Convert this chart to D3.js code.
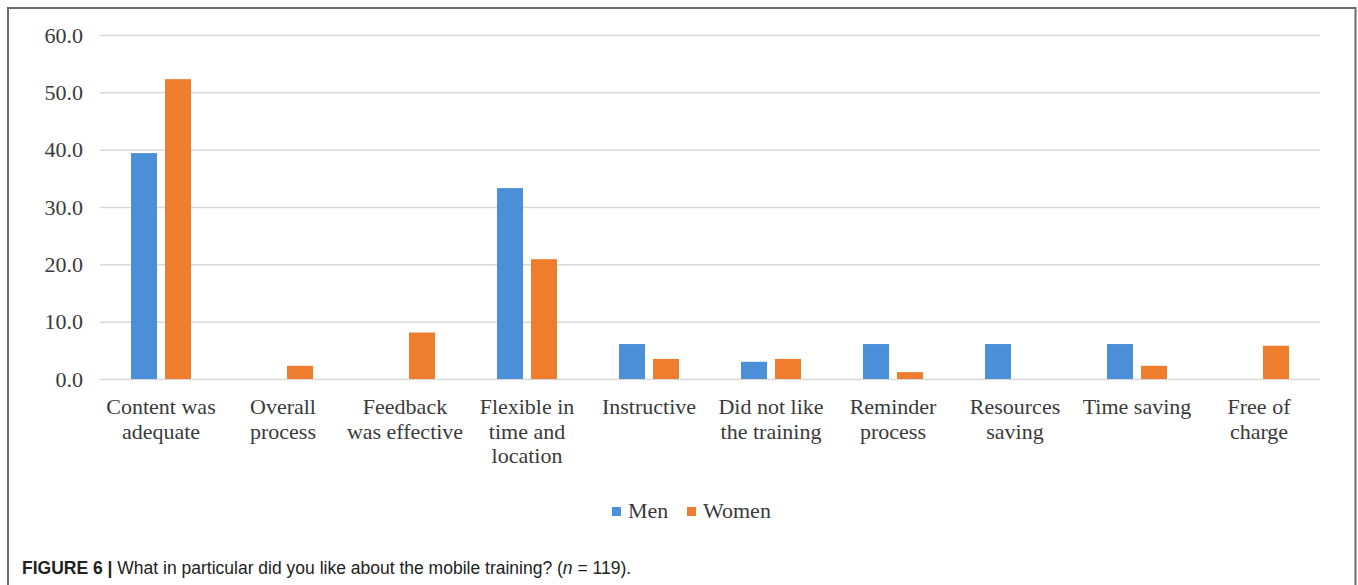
<!DOCTYPE html>
<html>
<head>
<meta charset="utf-8">
<script src="https://cdn.jsdelivr.net/npm/d3@7"></script>
<style>
  html, body { margin: 0; padding: 0; background: #fff; }
  svg { display: block; }
</style>
</head>
<body>
<svg id="chart" width="1358" height="585"></svg>
<script>
// Share of respondents (%) who named each aspect, by gender
const categories = [
  ["Content was", "adequate"],
  ["Overall", "process"],
  ["Feedback", "was effective"],
  ["Flexible in", "time and", "location"],
  ["Instructive"],
  ["Did not like", "the training"],
  ["Reminder", "process"],
  ["Resources", "saving"],
  ["Time saving"],
  ["Free of", "charge"]
];
const seriesNames = ["Men", "Women"];
const menValues   = [39.4, 0, 0, 33.3, 6.1, 3.0, 6.1, 6.1, 6.1, 0];
const womenValues = [52.3, 2.3, 8.1, 20.9, 3.5, 3.5, 1.2, 0, 2.3, 5.8];
const yTicks = [0, 10, 20, 30, 40, 50, 60];
const colors = { Men: "#4A8FD8", Women: "#EE7D2E" };

const svg = d3.select("#chart");
const W = 1358, H = 585;

// frame
svg.append("path")
  .attr("d", `M8,${H + 2} V8 H1355.5 V${H + 2}`)
  .attr("fill", "none")
  .attr("stroke", "#6b6b6b")
  .attr("stroke-width", 2);

const plot = { left: 100, right: 1320, top: 35, bottom: 379 };
const keys = categories.map((c, i) => i);

const x = d3.scaleBand().domain(keys).range([plot.left, plot.right]).padding(0);
const xs = d3.scaleBand().domain(seriesNames).range([-30, 30]).paddingInner(0.235).paddingOuter(0);
const y = d3.scaleLinear().domain([0, 60]).range([plot.bottom, plot.top]);

const serif = "'Liberation Serif', 'Times New Roman', serif";
const textColor = "#3a3a3a";

// gridlines + y tick labels
const yAxis = d3.axisLeft(y).tickValues(yTicks).tickFormat(d3.format(".1f"))
  .tickSize(-(plot.right - plot.left)).tickPadding(17);
const gy = svg.append("g").attr("transform", `translate(${plot.left},0)`).call(yAxis);
gy.select(".domain").remove();
gy.selectAll(".tick line").attr("stroke", "#d9d9d9").attr("stroke-width", 1.5);
gy.selectAll(".tick text")
  .attr("fill", textColor)
  .style("font-family", serif)
  .style("font-size", "22px");

// bars
const rows = keys.map(i => ({ i, Men: menValues[i], Women: womenValues[i] }));
const groups = svg.append("g").selectAll("g").data(rows).join("g")
  .attr("transform", d => `translate(${x(d.i) + x.bandwidth() / 2},0)`);
groups.selectAll("rect")
  .data(d => seriesNames.map(s => ({ s, v: d[s] })).filter(e => e.v > 0))
  .join("rect")
  .attr("x", e => xs(e.s))
  .attr("width", xs.bandwidth())
  .attr("y", e => y(e.v))
  .attr("height", e => y(0) - y(e.v))
  .attr("fill", e => colors[e.s]);

// category labels
const xAxis = d3.axisBottom(x).tickSize(0).tickFormat(() => "");
const gx = svg.append("g").attr("transform", `translate(0,${plot.bottom})`).call(xAxis);
gx.select(".domain").remove();
gx.selectAll(".tick").each(function (i) {
  const t = d3.select(this).append("text")
    .attr("text-anchor", "middle")
    .attr("fill", textColor)
    .style("font-family", serif)
    .style("font-size", "22px");
  categories[i].forEach((line, k) => {
    t.append("tspan").attr("x", 0).attr("y", 35 + k * 24.5).text(line);
  });
});

// legend
const legend = svg.append("g").attr("transform", "translate(612,518)");
const legendX = { Men: 0, Women: 75 };
seriesNames.forEach(s => {
  const g = legend.append("g").attr("transform", `translate(${legendX[s]},0)`);
  g.append("rect").attr("x", 0).attr("y", -11).attr("width", 9).attr("height", 9).attr("fill", colors[s]);
  g.append("text").attr("x", 16).attr("y", 0)
    .attr("fill", textColor)
    .style("font-family", serif)
    .style("font-size", "22px")
    .text(s);
});

// caption
const cap = svg.append("text")
  .attr("x", 22).attr("y", 574)
  .attr("fill", "#222")
  .style("font-family", "'Liberation Sans', Arial, sans-serif")
  .style("font-size", "17.5px");
cap.append("tspan").attr("font-weight", "bold").text("FIGURE 6 | ");
cap.append("tspan").text("What in particular did you like about the mobile training? (");
cap.append("tspan").attr("font-style", "italic").text("n");
cap.append("tspan").text(" = 119).");
</script>
</body>
</html>
